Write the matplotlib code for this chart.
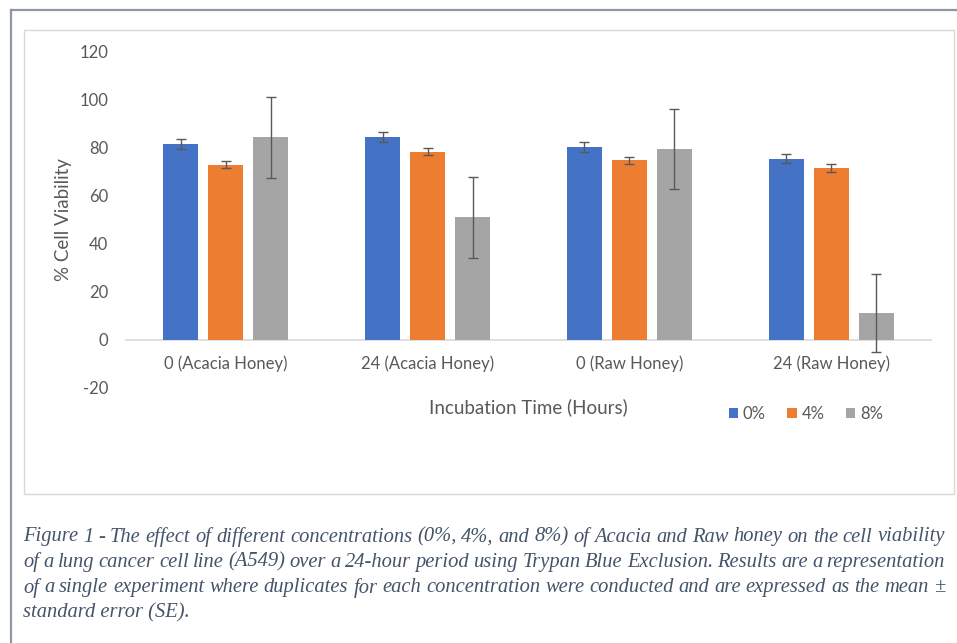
import numpy as np
import matplotlib
matplotlib.use("Agg")
import matplotlib.pyplot as plt
from matplotlib.patches import Rectangle, Patch
from matplotlib.lines import Line2D
import matplotlib.transforms as mtransforms

# data
groups = ["0 (Acacia Honey)", "24 (Acacia Honey)", "0 (Raw Honey)", "24 (Raw Honey)"]
conc = ["0%", "4%", "8%"]
viab_0 = [81.7, 84.5, 80.3, 75.6]
viab_4 = [73.1, 78.4, 74.8, 71.7]
viab_8 = [84.5, 51.2, 79.6, 11.4]
se_0 = [2.0, 2.0, 2.0, 1.8]
se_4 = [1.5, 1.4, 1.5, 1.8]
se_8 = [16.8, 16.9, 16.6, 16.3]
yticks = [-20, 0, 20, 40, 60, 80, 100, 120]

caption = ["Figure 1 - The effect of different concentrations (0%, 4%, and 8%) of Acacia and Raw honey on the cell viability",
           "of a lung cancer cell line (A549) over a 24-hour period using Trypan Blue Exclusion. Results are a representation",
           "of a single experiment where duplicates for each concentration were conducted and are expressed as the mean \u00b1",
           "standard error (SE)."]

colors = ["#4472C4", "#ED7D31", "#A5A5A5"]
txtcol = "#595959"
capcol = "#44546A"
W, H = 957, 643

plt.rcParams['font.family'] = ['Lato', 'DejaVu Sans']

fig = plt.figure(figsize=(W/100, H/100), dpi=100)

def fx(px):
    return px / W

def fy(py):
    return 1 - py / H

# outer frame (left + top) and inner chart frame
fig.add_artist(Line2D([fx(11), fx(11)], [fy(10), 0], transform=fig.transFigure, color="#8E96A6", lw=1.6))
fig.add_artist(Line2D([fx(11), 1], [fy(10), fy(10)], transform=fig.transFigure, color="#8E96A6", lw=1.6))
fig.add_artist(Rectangle((fx(24), fy(494)), fx(954) - fx(24), fy(30) - fy(494),
                         transform=fig.transFigure, fill=False, edgecolor="#D9D9D9", lw=1.0))

ax = fig.add_axes([fx(125), fy(388), fx(932) - fx(125), fy(52) - fy(388)])
x = np.arange(len(groups))
bw = 0.173
step = 0.223
series = [(viab_0, se_0), (viab_4, se_4), (viab_8, se_8)]
for i, (vals, errs) in enumerate(series):
    ax.bar(x + (i - 1) * step, vals, bw, color=colors[i], label=conc[i], zorder=2,
           yerr=errs, error_kw=dict(ecolor="#595959", elinewidth=1.0, capsize=3.5, capthick=1.0, zorder=3))

ax.set_xlim(-0.5, 3.5)
ax.set_ylim(-20, 120)
ax.axhline(0, color="#D9D9D9", lw=1.2, zorder=1)
for s in ax.spines.values():
    s.set_visible(False)
ax.set_yticks(yticks)
ax.set_yticklabels([str(v) for v in yticks])
ax.tick_params(axis='y', length=0, pad=12, labelsize=12, labelcolor=txtcol)
ax.set_xticks([])

# category labels just under the zero line
lab_tr = mtransforms.offset_copy(ax.transData, fig=fig, x=0, y=-24, units='dots')
for xi, g in zip(x, groups):
    ax.text(xi, 0, g, transform=lab_tr, ha='center', va='center', fontsize=12, color=txtcol)

fig.text(fx(528), fy(407), "Incubation Time (Hours)", ha='center', va='center', fontsize=13.5, color=txtcol)
fig.text(fx(63), fy(220), "% Cell Viability", ha='center', va='center', rotation=90, fontsize=13.5, color=txtcol)

handles = [Patch(facecolor=c, edgecolor='none') for c in colors]
fig.legend(handles, conc, loc='center', bbox_to_anchor=(fx(806), fy(414)), ncol=3, frameon=False,
           fontsize=12, labelcolor=txtcol, handlelength=0.55, handleheight=0.55, handletextpad=0.3,
           columnspacing=1.3)

# caption: justified lines between x=23 and x=945
capfont = ['Liberation Serif', 'DejaVu Serif']
x0, x1 = 23, 945
t = fig.text(fx(x0), fy(537), caption[0], ha='left', va='center', style='italic', family=capfont,
             fontsize=12, color=capcol)
fig.canvas.draw()
r = fig.canvas.get_renderer()
fs = 12 * (x1 - x0) / t.get_window_extent(r).width
t.remove()

def cap_line(line, ypx, justify):
    if not justify:
        fig.text(fx(x0), fy(ypx), line, ha='left', va='center', style='italic', family=capfont,
                 fontsize=fs, color=capcol)
        return
    words = line.split(" ")
    arts = [fig.text(0, fy(ypx), w, ha='left', va='center', style='italic', family=capfont,
                     fontsize=fs, color=capcol) for w in words]
    widths = [a.get_window_extent(r).width for a in arts]
    gap = (x1 - x0 - sum(widths)) / (len(words) - 1)
    pos = x0
    for a, w in zip(arts, widths):
        a.set_x(fx(pos))
        pos += w + gap

for k, line in enumerate(caption):
    cap_line(line, 537 + 25.3 * k, k < len(caption) - 1)

fig.savefig("out.png", dpi=100)
